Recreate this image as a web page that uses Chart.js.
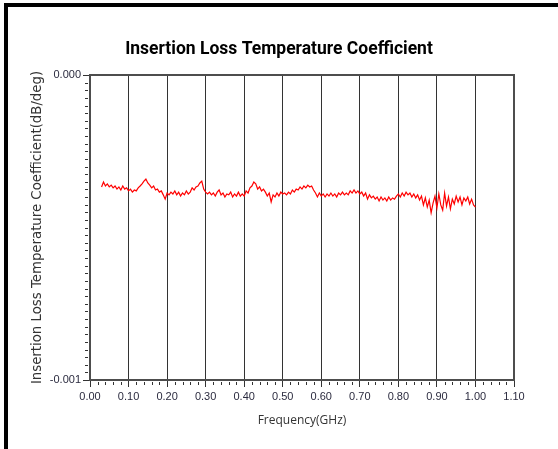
<!DOCTYPE html>
<html>
<head>
<meta charset="utf-8">
<script src="https://cdn.jsdelivr.net/npm/chart.js@4.4.1/dist/chart.umd.min.js"></script>
<style>
  html, body { margin: 0; padding: 0; background: #fff; }
  #wrap { position: relative; width: 558px; height: 449px; overflow: hidden; }
  #c { position: absolute; left: 0; top: 0; }
  #frame { position: absolute; left: 4px; top: 3px; width: 560px; height: 442px;
           border-top: 4px solid #000; border-left: 4px solid #000; border-bottom: 2px solid #333;
           pointer-events: none; }
</style>
</head>
<body>
<div id="wrap">
  <canvas id="c" width="558" height="449"></canvas>
  <div id="frame"></div>
</div>
<script>
const frequencyGHz = [
  0.030,0.035,0.040,0.045,0.050,0.055,0.060,0.065,0.070,0.075,0.080,0.085,0.090,0.095,
  0.100,0.105,0.110,0.115,0.120,0.125,0.130,0.135,0.140,0.145,0.150,0.155,0.160,0.165,0.170,0.175,0.180,0.185,0.190,0.195,
  0.200,0.205,0.210,0.215,0.220,0.225,0.230,0.235,0.240,0.245,0.250,0.255,0.260,0.265,0.270,0.275,0.280,0.285,0.290,0.295,
  0.300,0.305,0.310,0.315,0.320,0.325,0.330,0.335,0.340,0.345,0.350,0.355,0.360,0.365,0.370,0.375,0.380,0.385,0.390,0.395,
  0.400,0.405,0.410,0.415,0.420,0.425,0.430,0.435,0.440,0.445,0.450,0.455,0.460,0.465,0.470,0.475,0.480,0.485,0.490,0.495,
  0.500,0.505,0.510,0.515,0.520,0.525,0.530,0.535,0.540,0.545,0.550,0.555,0.560,0.565,0.570,0.575,0.580,0.585,0.590,0.595,
  0.600,0.605,0.610,0.615,0.620,0.625,0.630,0.635,0.640,0.645,0.650,0.655,0.660,0.665,0.670,0.675,0.680,0.685,0.690,0.695,
  0.700,0.705,0.710,0.715,0.720,0.725,0.730,0.735,0.740,0.745,0.750,0.755,0.760,0.765,0.770,0.775,0.780,0.785,0.790,0.795,
  0.800,0.805,0.810,0.815,0.820,0.825,0.830,0.835,0.840,0.845,0.850,0.855,0.860,0.865,0.870,0.875,0.880,0.885,0.890,0.895,
  0.900,0.905,0.910,0.915,0.920,0.925,0.930,0.935,0.940,0.945,0.950,0.955,0.960,0.965,0.970,0.975,0.980,0.985,0.990,0.995,1.000
];
const lossCoefficient = [
  -3.67e-4,-3.51e-4,-3.64e-4,-3.57e-4,-3.67e-4,-3.61e-4,-3.70e-4,-3.64e-4,-3.74e-4,-3.67e-4,-3.77e-4,-3.64e-4,-3.74e-4,-3.70e-4,
  -3.80e-4,-3.74e-4,-3.84e-4,-3.77e-4,-3.80e-4,-3.70e-4,-3.64e-4,-3.57e-4,-3.48e-4,-3.41e-4,-3.54e-4,-3.61e-4,-3.70e-4,-3.64e-4,-3.77e-4,-3.74e-4,-3.84e-4,-3.80e-4,-3.93e-4,-4.07e-4,
  -3.87e-4,-3.93e-4,-3.84e-4,-3.90e-4,-3.80e-4,-3.93e-4,-3.84e-4,-3.97e-4,-3.87e-4,-3.93e-4,-3.80e-4,-3.90e-4,-3.84e-4,-3.70e-4,-3.77e-4,-3.67e-4,-3.64e-4,-3.54e-4,-3.48e-4,-3.74e-4,
  -3.84e-4,-3.90e-4,-3.84e-4,-3.93e-4,-3.87e-4,-3.97e-4,-3.84e-4,-3.77e-4,-3.93e-4,-3.87e-4,-4.00e-4,-3.90e-4,-3.93e-4,-3.84e-4,-4.00e-4,-3.90e-4,-3.97e-4,-3.84e-4,-3.97e-4,-3.90e-4,
  -3.97e-4,-3.80e-4,-3.87e-4,-3.70e-4,-3.64e-4,-3.51e-4,-3.57e-4,-3.74e-4,-3.67e-4,-3.80e-4,-3.74e-4,-3.84e-4,-3.97e-4,-3.87e-4,-4.16e-4,-3.93e-4,-4.00e-4,-3.87e-4,-3.97e-4,-3.84e-4,
  -3.90e-4,-3.87e-4,-3.93e-4,-3.84e-4,-3.90e-4,-3.77e-4,-3.84e-4,-3.74e-4,-3.77e-4,-3.67e-4,-3.74e-4,-3.64e-4,-3.70e-4,-3.61e-4,-3.67e-4,-3.64e-4,-3.77e-4,-3.87e-4,-4.00e-4,-3.87e-4,
  -3.97e-4,-3.90e-4,-4.00e-4,-3.90e-4,-3.97e-4,-3.87e-4,-3.97e-4,-3.90e-4,-4.00e-4,-3.87e-4,-3.93e-4,-3.84e-4,-3.93e-4,-3.87e-4,-3.93e-4,-3.80e-4,-3.87e-4,-3.77e-4,-3.87e-4,-3.80e-4,
  -3.90e-4,-3.84e-4,-3.97e-4,-3.87e-4,-4.07e-4,-3.93e-4,-4.03e-4,-3.97e-4,-4.07e-4,-4.00e-4,-4.13e-4,-4.00e-4,-4.10e-4,-4.03e-4,-4.13e-4,-4.00e-4,-4.10e-4,-4.03e-4,-4.07e-4,-3.97e-4,
  -3.90e-4,-4.00e-4,-3.87e-4,-3.97e-4,-3.84e-4,-3.93e-4,-3.87e-4,-4.00e-4,-3.90e-4,-4.03e-4,-3.93e-4,-4.10e-4,-3.97e-4,-4.26e-4,-4.03e-4,-4.33e-4,-4.10e-4,-4.52e-4,-4.20e-4,-3.97e-4,
  -4.36e-4,-3.90e-4,-4.26e-4,-4.43e-4,-3.87e-4,-4.30e-4,-4.00e-4,-4.39e-4,-4.07e-4,-4.23e-4,-3.97e-4,-4.16e-4,-4.00e-4,-4.26e-4,-4.03e-4,-4.13e-4,-4.00e-4,-4.23e-4,-4.07e-4,-4.26e-4,-4.33e-4
];
const xTickLabels = ['0.00','0.10','0.20','0.30','0.40','0.50','0.60','0.70','0.80','0.90','1.00','1.10'];
const yTickLabels = ['-0.001','0.000'];

const chartTitle = 'Insertion Loss Temperature Coefficient';
const xTitle = 'Frequency(GHz)';
const yTitle = 'Insertion Loss Temperature Coefficient(dB/deg)';

const points = frequencyGHz.map((f, i) => ({ x: f, y: lossCoefficient[i] }));

const extras = {
  id: 'extras',
  afterDraw(chart) {
    const { ctx, chartArea: a, scales: { x, y } } = chart;
    ctx.save();
    ctx.strokeStyle = '#333';
    ctx.lineWidth = 1;
    ctx.beginPath();
    for (let i = 0; i <= 55; i++) {
      if (i % 5 === 0) continue;
      const px = Math.round(x.getPixelForValue(i * 0.02)) + 0.5;
      ctx.moveTo(px, a.bottom + 2);
      ctx.lineTo(px, a.bottom + 5);
    }
    for (let j = 1; j < 40; j++) {
      const py = Math.round(y.getPixelForValue(-j * 0.000025)) + 0.5;
      ctx.moveTo(a.left - 5, py);
      ctx.lineTo(a.left - 2, py);
    }
    ctx.stroke();
    ctx.strokeStyle = '#4d4d4d';
    ctx.lineWidth = 2;
    ctx.strokeRect(a.left, a.top, a.right - a.left, a.bottom - a.top);
    ctx.restore();
  }
};

new Chart(document.getElementById('c'), {
  type: 'line',
  data: {
    datasets: [{
      data: points,
      borderColor: '#ff0000',
      borderWidth: 1.2,
      pointRadius: 0,
      tension: 0,
      fill: false
    }]
  },
  plugins: [extras],
  options: {
    responsive: false,
    animation: false,
    devicePixelRatio: 1,
    layout: { padding: { left: 0, right: 0, top: 0, bottom: 0 } },
    plugins: {
      legend: { display: false },
      tooltip: { enabled: false },
      title: {
        display: true,
        text: chartTitle,
        color: '#000',
        font: { family: 'Roboto', size: 17.5, weight: 'bold' },
        padding: { top: 39, bottom: 15 }
      }
    },
    scales: {
      x: {
        type: 'linear',
        min: 0,
        max: 1.1,
        afterFit: (s) => { s.height = 69; },
        ticks: {
          stepSize: 0.1,
          autoSkip: false,
          maxRotation: 0,
          padding: 3,
          color: '#2b2b3f',
          font: { family: 'Liberation Sans', size: 11 },
          callback: (v, i) => xTickLabels[i]
        },
        grid: { color: '#333', lineWidth: 1, tickLength: 7, tickColor: '#333' },
        border: { display: false },
        title: {
          display: true,
          text: xTitle,
          color: '#333',
          font: { family: 'Open Sans', size: 12 },
          padding: { top: 0, bottom: 21 }
        }
      },
      y: {
        type: 'linear',
        min: -0.001,
        max: 0,
        afterFit: (s) => { s.width = 90; },
        ticks: {
          stepSize: 0.001,
          autoSkip: false,
          padding: 2,
          color: '#2b2b3f',
          font: { family: 'Liberation Sans', size: 11 },
          callback: (v, i) => yTickLabels[i]
        },
        grid: { drawOnChartArea: false, drawTicks: true, tickLength: 7, color: '#333', tickColor: '#333' },
        border: { display: false },
        title: {
          display: true,
          text: yTitle,
          color: '#333',
          font: { family: 'DejaVu Sans', size: 13.3 },
          padding: { top: 30, bottom: 0 }
        }
      },
      spacer: {
        type: 'linear',
        position: 'right',
        display: true,
        afterFit: (s) => { s.width = 44; },
        grid: { display: false, drawTicks: false },
        border: { display: false },
        ticks: { display: false }
      }
    }
  }
});
</script>
</body>
</html>
